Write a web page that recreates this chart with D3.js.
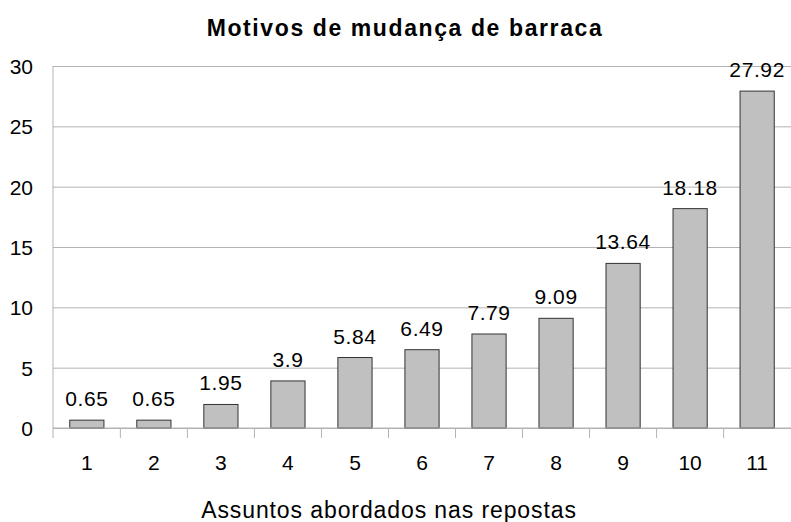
<!DOCTYPE html>
<html>
<head>
<meta charset="utf-8">
<script src="https://cdn.jsdelivr.net/npm/d3@7"></script>
<style>
  body { margin: 0; background: #fff; }
  text { font-family: "Liberation Sans", Arial, sans-serif; }
</style>
</head>
<body>
<div id="chart"></div>
<script>
var categories = ["1", "2", "3", "4", "5", "6", "7", "8", "9", "10", "11"];
var values = [0.65, 0.65, 1.95, 3.9, 5.84, 6.49, 7.79, 9.09, 13.64, 18.18, 27.92];
var yTicks = [0, 5, 10, 15, 20, 25, 30];

var width = 791, height = 522;
var margin = { top: 66, right: 0, bottom: 94, left: 53 };
var innerW = width - margin.left - margin.right;
var innerH = height - margin.top - margin.bottom;
var font = "'Liberation Sans', Arial, sans-serif";

var svg = d3.select("#chart").append("svg")
  .attr("width", width).attr("height", height);

var g = svg.append("g")
  .attr("transform", "translate(" + margin.left + "," + margin.top + ")");

var x = d3.scaleBand().domain(categories).range([0, innerW]).paddingInner(0.49).paddingOuter(0.25);
var y = d3.scaleLinear().domain([0, 30]).range([innerH, 0]);

// gridlines + y axis
g.append("g")
  .call(d3.axisLeft(y).tickValues(yTicks).tickSize(10).tickPadding(10))
  .call(function (gg) { gg.select(".domain").remove(); })
  .call(function (gg) { gg.selectAll(".tick line").attr("stroke", "#b3b3b3").attr("x2", innerW); })
  .call(function (gg) { gg.selectAll(".tick text").attr("font-size", 21).attr("fill", "#000")
    .attr("font-family", font).attr("dy", "0.36em"); });

// y axis line
g.append("line")
  .attr("x1", 0).attr("x2", 0).attr("y1", 0).attr("y2", innerH + 10)
  .attr("stroke", "#b3b3b3");

// x axis tick marks between categories
var gap = x.step() - x.bandwidth();
g.selectAll(".xsep")
  .data(categories.slice(1)).join("line")
    .attr("class", "xsep")
    .attr("x1", function (d) { return x(d) - gap / 2; })
    .attr("x2", function (d) { return x(d) - gap / 2; })
    .attr("y1", innerH).attr("y2", innerH + 10)
    .attr("stroke", "#b3b3b3");

// bars
g.selectAll(".bar")
  .data(values).join("rect")
    .attr("class", "bar")
    .attr("x", function (d, i) { return x(categories[i]); })
    .attr("width", x.bandwidth())
    .attr("y", function (d) { return y(d); })
    .attr("height", function (d) { return innerH - y(d); })
    .attr("fill", "#c0c0c0")
    .attr("stroke", "#333").attr("stroke-width", 1);

// x axis line
g.append("line")
  .attr("x1", 0).attr("x2", innerW).attr("y1", innerH).attr("y2", innerH)
  .attr("stroke", "#b3b3b3");

// value labels
g.selectAll(".val")
  .data(values).join("text")
    .attr("class", "val")
    .attr("x", function (d, i) { return x(categories[i]) + x.bandwidth() / 2; })
    .attr("y", function (d) { return y(d) - 14; })
    .attr("text-anchor", "middle").attr("font-size", 21).attr("letter-spacing", 0.6)
    .attr("fill", "#000")
    .text(function (d) { return d; });

// category labels
g.selectAll(".cat")
  .data(categories).join("text")
    .attr("class", "cat")
    .attr("x", function (d) { return x(d) + x.bandwidth() / 2; })
    .attr("y", innerH + 42)
    .attr("text-anchor", "middle").attr("font-size", 21).attr("fill", "#000")
    .text(function (d) { return d; });

// title
svg.append("text")
  .attr("x", 405).attr("y", 36)
  .attr("text-anchor", "middle").attr("font-size", 23).attr("font-weight", "bold")
  .attr("letter-spacing", 1.6)
  .text("Motivos de mudança de barraca");

// x axis title
svg.append("text")
  .attr("x", 389).attr("y", 518)
  .attr("text-anchor", "middle").attr("font-size", 23).attr("letter-spacing", 0.9)
  .text("Assuntos abordados nas repostas");
</script>
</body>
</html>
